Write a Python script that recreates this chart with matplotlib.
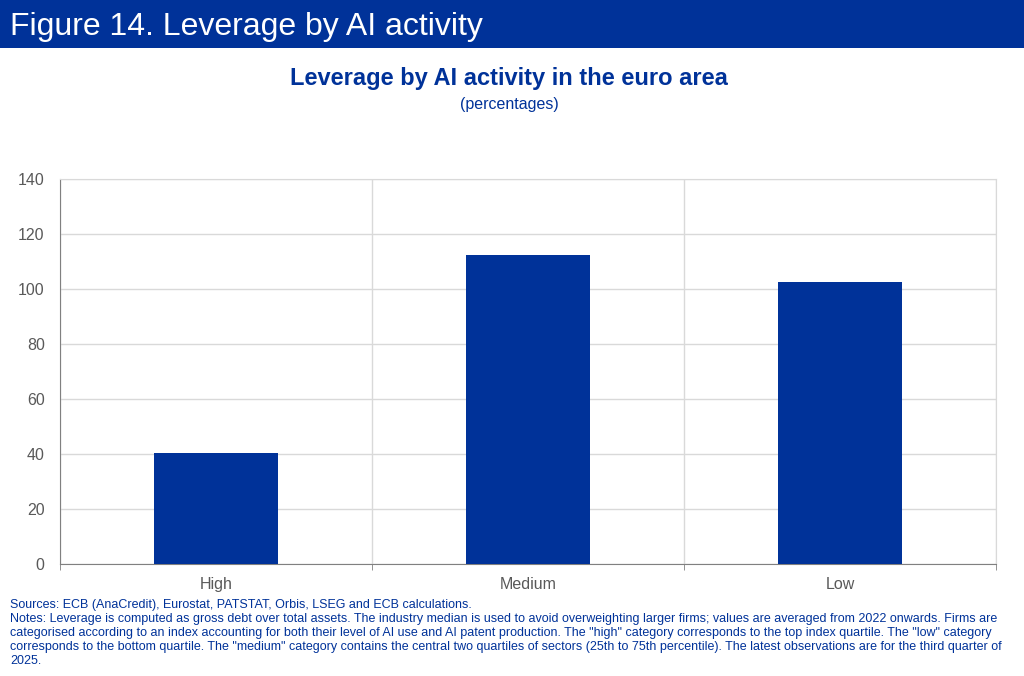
import numpy as np
import matplotlib.pyplot as plt
from matplotlib.patches import Rectangle

plt.rcParams['font.family'] = ['Liberation Sans', 'DejaVu Sans']

categories = ['High', 'Medium', 'Low']
leverage = [40.6, 112.6, 102.8]
y_ticks = [0, 20, 40, 60, 80, 100, 120, 140]

ecb_blue = '#003299'
grid_grey = '#d9d9d9'
tick_grey = '#595959'

fig = plt.figure(figsize=(10.24, 6.76), dpi=100)

# header banner
fig.patches.append(Rectangle((0, 1 - 48 / 676), 1, 48 / 676, transform=fig.transFigure,
                             facecolor=ecb_blue, edgecolor='none', zorder=0))
fig.text(10 / 1024, 1 - 27 / 676, 'Figure 14. Leverage by AI activity', color='white',
         fontsize=23, va='center', ha='left')

fig.text(509 / 1024, 1 - 79 / 676, 'Leverage by AI activity in the euro area', color=ecb_blue,
         fontsize=17, fontweight='bold', ha='center', va='center')
fig.text(509 / 1024, 1 - 104 / 676, '(percentages)', color=ecb_blue,
         fontsize=11.5, ha='center', va='center')

ax = fig.add_axes([60 / 1024, 1 - 564.3 / 676, 936 / 1024, 385 / 676])
x = np.arange(len(categories))
ax.bar(x, leverage, width=0.4, color=ecb_blue, zorder=3)

ax.set_xlim(-0.5, len(categories) - 0.5)
ax.set_ylim(0, 140)
ax.set_yticks(y_ticks)
ax.set_xticks(x)
ax.set_xticklabels(categories)
ax.set_xticks(np.arange(len(categories) + 1) - 0.5, minor=True)

ax.grid(axis='y', color=grid_grey, linewidth=1, zorder=0)
ax.grid(axis='x', which='minor', color=grid_grey, linewidth=1, zorder=0)
ax.tick_params(axis='x', which='major', length=0, labelsize=11.5, labelcolor=tick_grey, pad=9)
ax.tick_params(axis='x', which='minor', length=4, color='#808080', direction='out')
ax.tick_params(axis='y', length=0, labelsize=11.5, labelcolor=tick_grey, pad=11)

for side in ['top', 'right']:
    ax.spines[side].set_color(grid_grey)
ax.spines['left'].set_color('#808080')
ax.spines['bottom'].set_color('#808080')

notes = ("Sources: ECB (AnaCredit), Eurostat, PATSTAT, Orbis, LSEG and ECB calculations.\n"
         "Notes: Leverage is computed as gross debt over total assets. The industry median is used to avoid "
         "overweighting larger firms; values are averaged from 2022 onwards. Firms are\n"
         "categorised according to an index accounting for both their level of AI use and AI patent production. "
         "The \"high\" category corresponds to the top index quartile. The \"low\" category\n"
         "corresponds to the bottom quartile. The \"medium\" category contains the central two quartiles of "
         "sectors (25th to 75th percentile). The latest observations are for the third quarter of\n"
         "2025.")
fig.text(10 / 1024, 1 - 599 / 676, notes, color=ecb_blue, fontsize=9, ha='left', va='top',
         linespacing=1.22)

fig.savefig('out.png', dpi=100)
